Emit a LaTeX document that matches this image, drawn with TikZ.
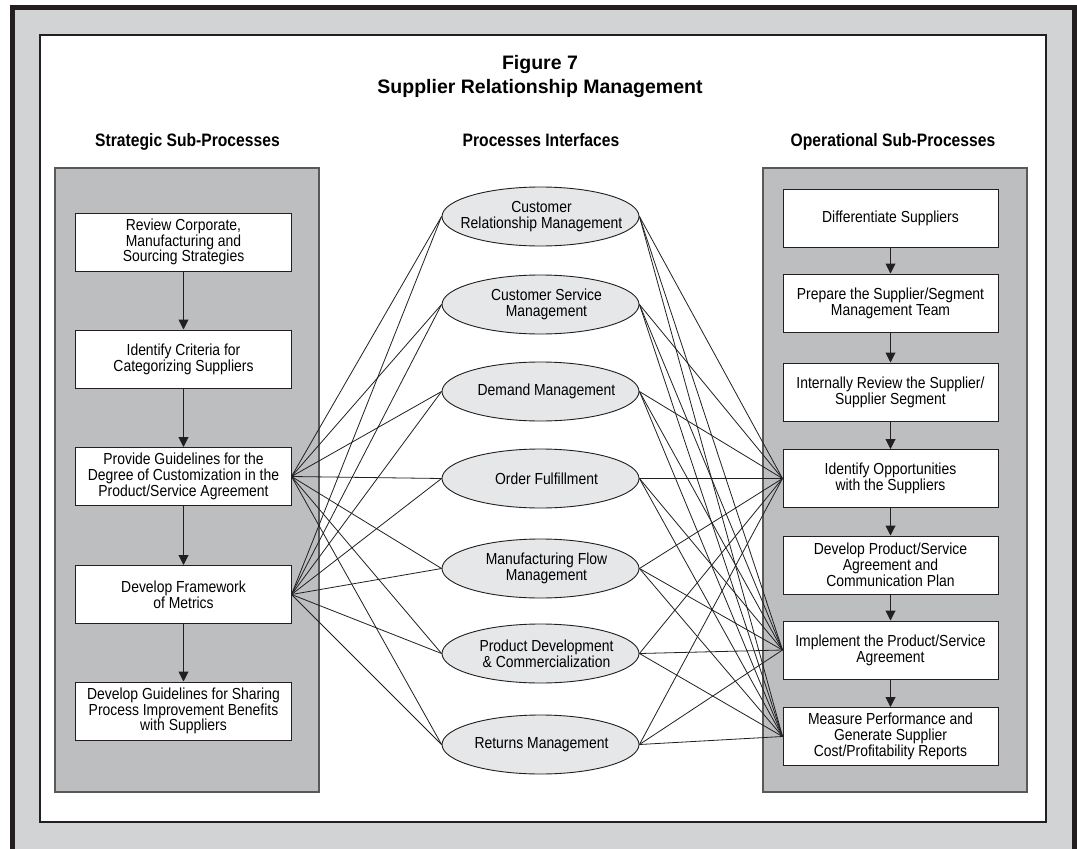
\documentclass[tikz,border=0pt]{standalone}
\usepackage{fontspec}
\setmainfont{Liberation Sans}
\newfontfamily\hdrfamily{Liberation Sans}[FakeStretch=0.87]
\newfontfamily\bodyfamily{Liberation Sans}[FakeStretch=0.87]
\usetikzlibrary{arrows.meta,shapes.geometric}
\definecolor{framebk}{HTML}{231F20}
\definecolor{outgray}{HTML}{D1D3D4}
\definecolor{panelgray}{HTML}{BCBEC0}
\definecolor{panelline}{HTML}{58595B}
\definecolor{ellfill}{HTML}{E6E7E8}
\definecolor{inkline}{HTML}{231F20}
\tikzset{
  bodyfont/.style={font=\bodyfamily\fontsize{16bp}{15.8bp}\selectfont},
  procbox/.style={draw=inkline, line width=1bp, fill=white, minimum width=215bp, minimum height=58bp, inner sep=0pt, align=center, bodyfont},
  procell/.style={ellipse, draw=inkline, line width=0.9bp, fill=ellfill, minimum width=197bp, minimum height=59bp, inner sep=0pt},
  elltext/.style={align=center, inner sep=0pt, bodyfont},
  flowarrow/.style={draw=inkline, line width=1bp, -{Triangle[width=10bp,length=10bp]}},
  link/.style={draw=inkline, line width=0.8bp},
  hdr/.style={font=\hdrfamily\bfseries\fontsize{18bp}{20bp}\selectfont, anchor=base, inner sep=0pt},
  ttl/.style={font=\bfseries\fontsize{19.5bp}{22bp}\selectfont, anchor=base, inner sep=0pt}
}
\begin{document}
\begin{tikzpicture}[x=1bp,y=-1bp]
\useasboundingbox (0,0) rectangle (1077,849);
\fill[white] (0,0) rectangle (1077,849);
\fill[framebk] (10,5) rectangle (1077,860);
\fill[outgray] (15,10) rectangle (1072,860);
\draw[fill=white, draw=inkline, line width=1.2bp] (40,35) rectangle (1046,822);
\draw[fill=panelgray, draw=panelline, line width=1.4bp] (55,168) rectangle (319,792);
\draw[fill=panelgray, draw=panelline, line width=1.4bp] (763,168) rectangle (1027,792);

% titles
\node[ttl] (t1) at (540,69) {Figure 7};
\node[ttl] (t2) at (540,93) {Supplier Relationship Management};
\node[hdr] (h1) at (187.5,146) {Strategic Sub-Processes};
\node[hdr] (h2) at (541,146) {Processes Interfaces};
\node[hdr] (h3) at (893,146) {Operational Sub-Processes};

% left boxes
\node[procbox] (L1) at (183.5,242) {Review Corporate,\\Manufacturing and\\Sourcing Strategies};
\node[procbox] (L2) at (183.5,359) {Identify Criteria for\\Categorizing Suppliers};
\node[procbox] (L3) at (183.5,476.5) {Provide Guidelines for the\\Degree of Customization in the\\Product/Service Agreement};
\node[procbox] (L4) at (183.5,594.5) {Develop Framework\\of Metrics};
\node[procbox] (L5) at (183.5,711) {Develop Guidelines for Sharing\\Process Improvement Benefits\\with Suppliers};

% right boxes
\node[procbox] (R1) at (890.5,218) {Differentiate Suppliers};
\node[procbox] (R2) at (890.5,303) {Prepare the Supplier/Segment\\Management Team};
\node[procbox] (R3) at (890.5,392) {Internally Review the Supplier/\\Supplier Segment};
\node[procbox] (R4) at (890.5,478.5) {Identify Opportunities\\with the Suppliers};
\node[procbox] (R5) at (890.5,565) {Develop Product/Service\\Agreement and\\Communication Plan};
\node[procbox] (R6) at (890.5,650) {Implement the Product/Service\\Agreement};
\node[procbox] (R7) at (890.5,736.5) {Measure Performance and\\Generate Supplier\\Cost/Profitability Reports};

% ellipses
\node[procell] (E1) at (540.5,216.5) {};
\node[procell] (E2) at (540.5,304.5) {};
\node[procell] (E3) at (540.5,391.5) {};
\node[procell] (E4) at (540.5,478.5) {};
\node[procell] (E5) at (540.5,568.5) {};
\node[procell] (E6) at (540.5,653.5) {};
\node[procell] (E7) at (540.5,744.5) {};
\node[elltext] (E1t) at ([xshift=1bp]E1.center) {Customer\\Relationship Management};
\node[elltext] (E2t) at ([xshift=6bp]E2.center) {Customer Service\\Management};
\node[elltext] (E3t) at ([xshift=6bp]E3.center) {Demand Management};
\node[elltext] (E4t) at ([xshift=6bp]E4.center) {Order Fulfillment};
\node[elltext] (E5t) at ([xshift=6bp]E5.center) {Manufacturing Flow\\Management};
\node[elltext] (E6t) at ([xshift=6bp]E6.center) {Product Development\\\& Commercialization};
\node[elltext] (E7t) at ([xshift=1bp]E7.center) {Returns Management};

% links
\foreach \e in {E1,E2,E3,E4,E5,E6,E7}{
  \draw[link] (L3.east) -- (\e.west);
  \draw[link] (L4.east) -- (\e.west);
  \draw[link] (\e.east) -- (R4.west);
  \draw[link] (\e.east) -- (R6.west);
  \draw[link] (\e.east) -- (R7.west);
}

% flow arrows
\draw[flowarrow] (L1) -- (L2);
\draw[flowarrow] (L2) -- (L3);
\draw[flowarrow] (L3) -- (L4);
\draw[flowarrow] (L4) -- (L5);
\draw[flowarrow] (R1) -- (R2);
\draw[flowarrow] (R2) -- (R3);
\draw[flowarrow] (R3) -- (R4);
\draw[flowarrow] (R4) -- (R5);
\draw[flowarrow] (R5) -- (R6);
\draw[flowarrow] (R6) -- (R7);
\end{tikzpicture}
\end{document}
